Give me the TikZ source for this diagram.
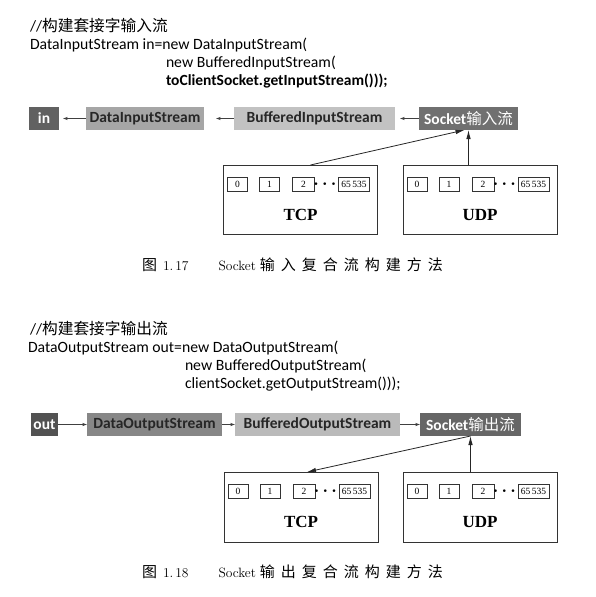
\documentclass[tikz,border=0pt]{standalone}
\usepackage{amsmath}
\usepackage{fontspec}
\newfontfamily\codefont{Carlito}
\newfontfamily\cjkfont{Noto Sans CJK SC}
\newfontfamily\capcjk[LetterSpace=40]{Noto Sans CJK SC}
\newfontfamily\tfont{Liberation Serif}
\usepackage{tikz}
\usetikzlibrary{arrows,arrows.meta}
\usetikzlibrary{scopes}
\usetikzlibrary{positioning,calc}

\begin{document}
\begin{tikzpicture}
      [
      x=1pt, y=-1pt,
      every node/.style={inner sep=0pt,outer sep=0pt},
      code/.style={anchor=west,font=\codefont\fontsize{15.7}{18}\selectfont},
      stream/.style={minimum height=23pt,font=\codefont\bfseries\fontsize{15.5}{18}\selectfont},
      proto/.style={draw=black!80,line width=0.7pt,minimum width=154pt,minimum height=69pt},
      port/.style={draw=black!80,line width=0.5pt,minimum height=14pt,font=\tfont\fontsize{9.5}{10}\selectfont},
      protoname/.style={font=\tfont\bfseries\fontsize{17}{18}\selectfont},
      pipe/.style={>=latex,draw=black!75,line width=0.5pt},
      feed/.style={draw=black!85,line width=0.8pt,-{Latex[length=9pt,width=4.5pt]}},
      figcap/.style={anchor=west,font=\fontsize{13.5}{16}\selectfont},
      ]
      \useasboundingbox[fill=white] (0,0) rectangle (595,597);
      % input side
      \node[code] (cmtA) at (30,25) {//{\cjkfont 构建套接字输入流}};
      \node[code] (lineA1) at (30,45) {DataInputStream in=new DataInputStream(};
      \node[code] (lineA2) at (166,63) {new BufferedInputStream(};
      \node[code,font=\codefont\bfseries\fontsize{15.5}{18}\selectfont] (lineA3) at (166,81) {toClientSocket.getInputStream()));};
      \node[stream,fill=black!62,text=white,minimum width=30pt] (inA) at (44,118.5) {in};
      \node[stream,fill=black!35,text=black!85,minimum width=118pt] (dataA) at (145,118.5) {DataInputStream};
      \node[stream,fill=black!24,text=black!85,minimum width=161pt] (bufA) at (314.5,118.5) {BufferedInputStream};
      \node[stream,fill=black!56,text=white,minimum width=99pt] (sockA) at (468.5,118.5) {Socket{\cjkfont\mdseries 输入流}};
      {[pipe,->]
        \draw[shorten >=4pt] (dataA) -- (inA);
        \draw[shorten >=12pt] (bufA) -- (dataA);
        \draw[shorten >=5pt] (sockA) -- (bufA);
      }
      \node[proto] (tcpA) at (300.5,199.5) {};
      \node[proto] (udpA) at (480,199.5) {};
      {[feed]
        \draw ([xshift=10pt]tcpA.north) -- ([xshift=-4pt]sockA.south);
        \draw (sockA.south |- udpA.north) -- (sockA.south);
      }
      \node[figcap] (capA) at (142,265) {{\capcjk\fontsize{15}{16}\selectfont 图}\hspace{6pt}1.\hspace{2pt}17\hspace{30pt}Socket\hspace{4pt}{\capcjk\fontsize{15}{16}\selectfont 输入复合流构建方法}};
      % output side
      \node[code] (cmtB) at (30,328) {//{\cjkfont 构建套接字输出流}};
      \node[code] (lineB1) at (28,348) {DataOutputStream out=new DataOutputStream(};
      \node[code] (lineB2) at (185,366) {new BufferedOutputStream(};
      \node[code] (lineB3) at (185,384) {clientSocket.getOutputStream()));};
      \node[stream,fill=black!68,text=white,minimum width=27pt] (outB) at (44.5,424.5) {out};
      \node[stream,fill=black!47,text=black!85,minimum width=135pt] (dataB) at (154.5,424.5) {DataOutputStream};
      \node[stream,fill=black!27,text=black!85,minimum width=165pt] (bufB) at (317.5,424.5) {BufferedOutputStream};
      \node[stream,fill=black!60,text=white,minimum width=101pt] (sockB) at (470.5,424.5) {Socket{\cjkfont\mdseries 输出流}};
      {[pipe,->]
        \draw (outB) -- (dataB);
        \draw (dataB) -- (bufB);
        \draw (bufB) -- (sockB);
      }
      \node[proto,minimum height=70pt] (tcpB) at (301,507) {};
      \node[proto,minimum height=70pt] (udpB) at (480,507) {};
      {[feed]
        \draw (sockB.south) -- ([xshift=6pt]tcpB.north);
        \draw (sockB.south |- udpB.north) -- (sockB.south);
      }
      \node[figcap] (capB) at (142,572) {{\capcjk\fontsize{15}{16}\selectfont 图}\hspace{6pt}1.\hspace{2pt}18\hspace{30pt}Socket\hspace{4pt}{\capcjk\fontsize{15}{16}\selectfont 输出复合流构建方法}};
      % port numbers
      \foreach \g/\p in {tcpA/TCP,udpA/UDP,tcpB/TCP,udpB/UDP}
      {
        \node[port,minimum width=20pt,below right=12pt and 4pt of \g.north west] (\g p0) {0};
        \node[port,minimum width=20pt,right=12pt of \g p0] (\g p1) {1};
        \node[port,minimum width=22pt,right=13pt of \g p1] (\g p2) {2};
        \node[port,minimum width=31pt,right=24pt of \g p2] (\g pn) {65\,535};
        \node[font=\fontsize{16}{16}\selectfont] (\g dots) at ($(\g p2.east)!0.5!(\g pn.west)$) {$\boldsymbol{\cdots}$};
        \node[protoname,below=44pt of \g.north] (\g name) {\p};
      }
    \end{tikzpicture}
\end{document}
